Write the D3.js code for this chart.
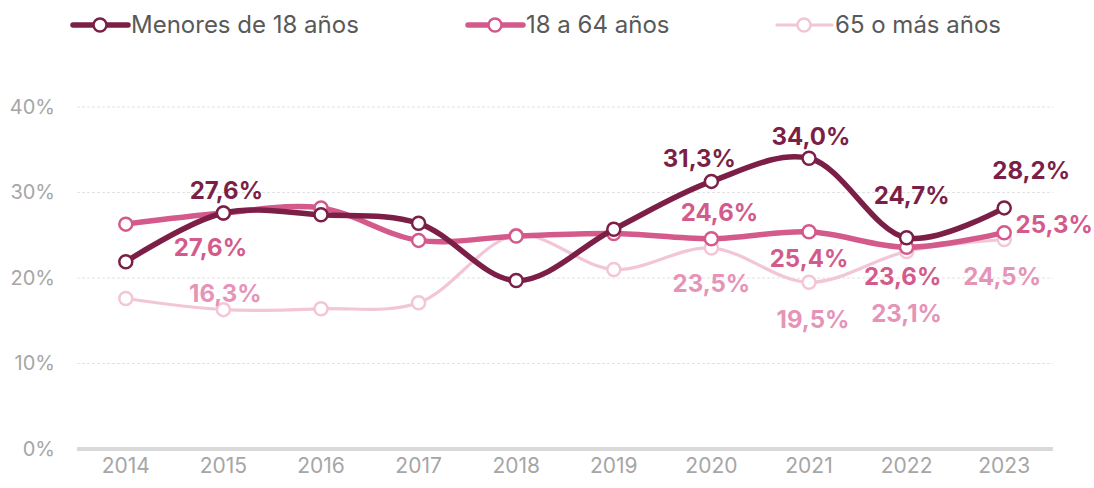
<!DOCTYPE html>
<html><head><meta charset="utf-8">
<script src="https://cdn.jsdelivr.net/npm/d3@7"></script>
<style>body{margin:0;background:#fff;}svg{display:block;font-family:Inter,"Noto Sans",sans-serif;}</style>
</head><body>
<svg id="c" width="1094" height="488"></svg>
<script>
const years = ["2014","2015","2016","2017","2018","2019","2020","2021","2022","2023"];
const seriesNames = ["Menores de 18 años","18 a 64 años","65 o más años"];
const menores = [21.9,27.6,27.4,26.4,19.7,25.7,31.3,34.0,24.7,28.2];
const adultos = [26.3,27.6,28.2,24.4,24.9,25.2,24.6,25.4,23.6,25.3];
const mayores = [17.6,16.3,16.4,17.1,25.0,21.0,23.5,19.5,23.1,24.5];
const yTicks = [0,10,20,30,40];
// labelled points: [series index, year index]
const labelled = [[0,1],[0,6],[0,7],[0,8],[0,9],[1,1],[1,6],[1,7],[1,8],[1,9],[2,1],[2,6],[2,7],[2,8],[2,9]];
// label offsets in px relative to the point (placement only)
const labelOffsets = [[3,-22],[-12,-23],[2,-22],[5,-42],[27,-37],[-13,35],[8,-26],[0,27],[-4,29],[50,-8],[2,-16],[0,36],[4,37],[0,62],[-2,37]];

const colors = ["#7B1F47","#D35A8B","#F2C6D7"];
const labelColors = ["#7B1F47","#D35A8B","#E594B7"];
const widths = [5.5,5.5,3.2];
const data = [menores, adultos, mayores];

const svg = d3.select("#c");
const x = d3.scaleBand().domain(years).range([77,1053]);
const y = d3.scaleLinear().domain([0,40]).range([449,107]);
const cx = d => x(d) + x.bandwidth()/2;

// gridlines
svg.append("g").selectAll("line").data(yTicks.filter(t=>t>0)).join("line")
  .attr("x1",77).attr("x2",1053).attr("y1",d=>y(d)).attr("y2",d=>y(d))
  .attr("stroke","#E2E2E2").attr("stroke-width",1).attr("stroke-dasharray","3,2");
svg.append("line").attr("x1",77).attr("x2",1053).attr("y1",y(0)).attr("y2",y(0))
  .attr("stroke","#D9D9D9").attr("stroke-width",4);

// y axis labels
const yAxis = d3.axisLeft(y).tickValues(yTicks).tickFormat(d=>d+"%").tickSize(0).tickPadding(0);
const ga = svg.append("g").attr("transform","translate(55,0)").call(yAxis);
ga.select(".domain").remove();
ga.selectAll("text").attr("fill","#A6A6A6").style("font-size","20px").style("font-family","Inter,'Noto Sans',sans-serif");

// x axis labels
const xAxis = d3.axisBottom(x).tickSize(0).tickPadding(0);
const gx = svg.append("g").attr("transform","translate(0,466)").call(xAxis);
gx.select(".domain").remove();
gx.selectAll("text").attr("fill","#A6A6A6").style("font-size","21px").style("font-family","Inter,'Noto Sans',sans-serif").attr("dy","0.35em").attr("y",0);

const line = d3.line().x((d,i)=>cx(years[i])).y(d=>y(d)).curve(d3.curveCatmullRom.alpha(0.5));

// draw series from last to first so dark is on top
[2,1,0].forEach(s=>{
  const g = svg.append("g");
  g.append("path").datum(data[s]).attr("d",line).attr("fill","none")
    .attr("stroke",colors[s]).attr("stroke-width",widths[s]).attr("stroke-linecap","round");
  g.selectAll("circle").data(data[s]).join("circle")
    .attr("cx",(d,i)=>cx(years[i])).attr("cy",d=>y(d)).attr("r",6.5)
    .attr("fill","#fff").attr("stroke",colors[s]).attr("stroke-width",2.5);
});

// data labels
const fmt = v => v.toFixed(1).replace(".",",")+"%";
svg.append("g").selectAll("text").data(labelled).join("text")
  .attr("x",(d,k)=>cx(years[d[1]])+labelOffsets[k][0])
  .attr("y",(d,k)=>y(data[d[0]][d[1]])+labelOffsets[k][1])
  .attr("text-anchor","middle").attr("dy","0.35em")
  .attr("fill",d=>labelColors[d[0]])
  .style("font-size","24px").style("font-weight","700")
  .text(d=>fmt(data[d[0]][d[1]]));

// legend
const legX = [73,468,777];
const lg = svg.append("g");
seriesNames.forEach((n,i)=>{
  const g = lg.append("g").attr("transform",`translate(${legX[i]},25)`);
  g.append("line").attr("x1",0).attr("x2",55).attr("y1",0).attr("y2",0)
    .attr("stroke",colors[i]).attr("stroke-width",i===2?3.2:5.5).attr("stroke-linecap","round");
  g.append("circle").attr("cx",27).attr("cy",0).attr("r",6.5).attr("fill","#fff")
    .attr("stroke",colors[i]).attr("stroke-width",2.5);
  g.append("text").attr("x",58).attr("y",0).attr("dy","0.35em").attr("fill","#595959")
    .style("font-size","24px").text(n);
});
</script>
</body></html>
